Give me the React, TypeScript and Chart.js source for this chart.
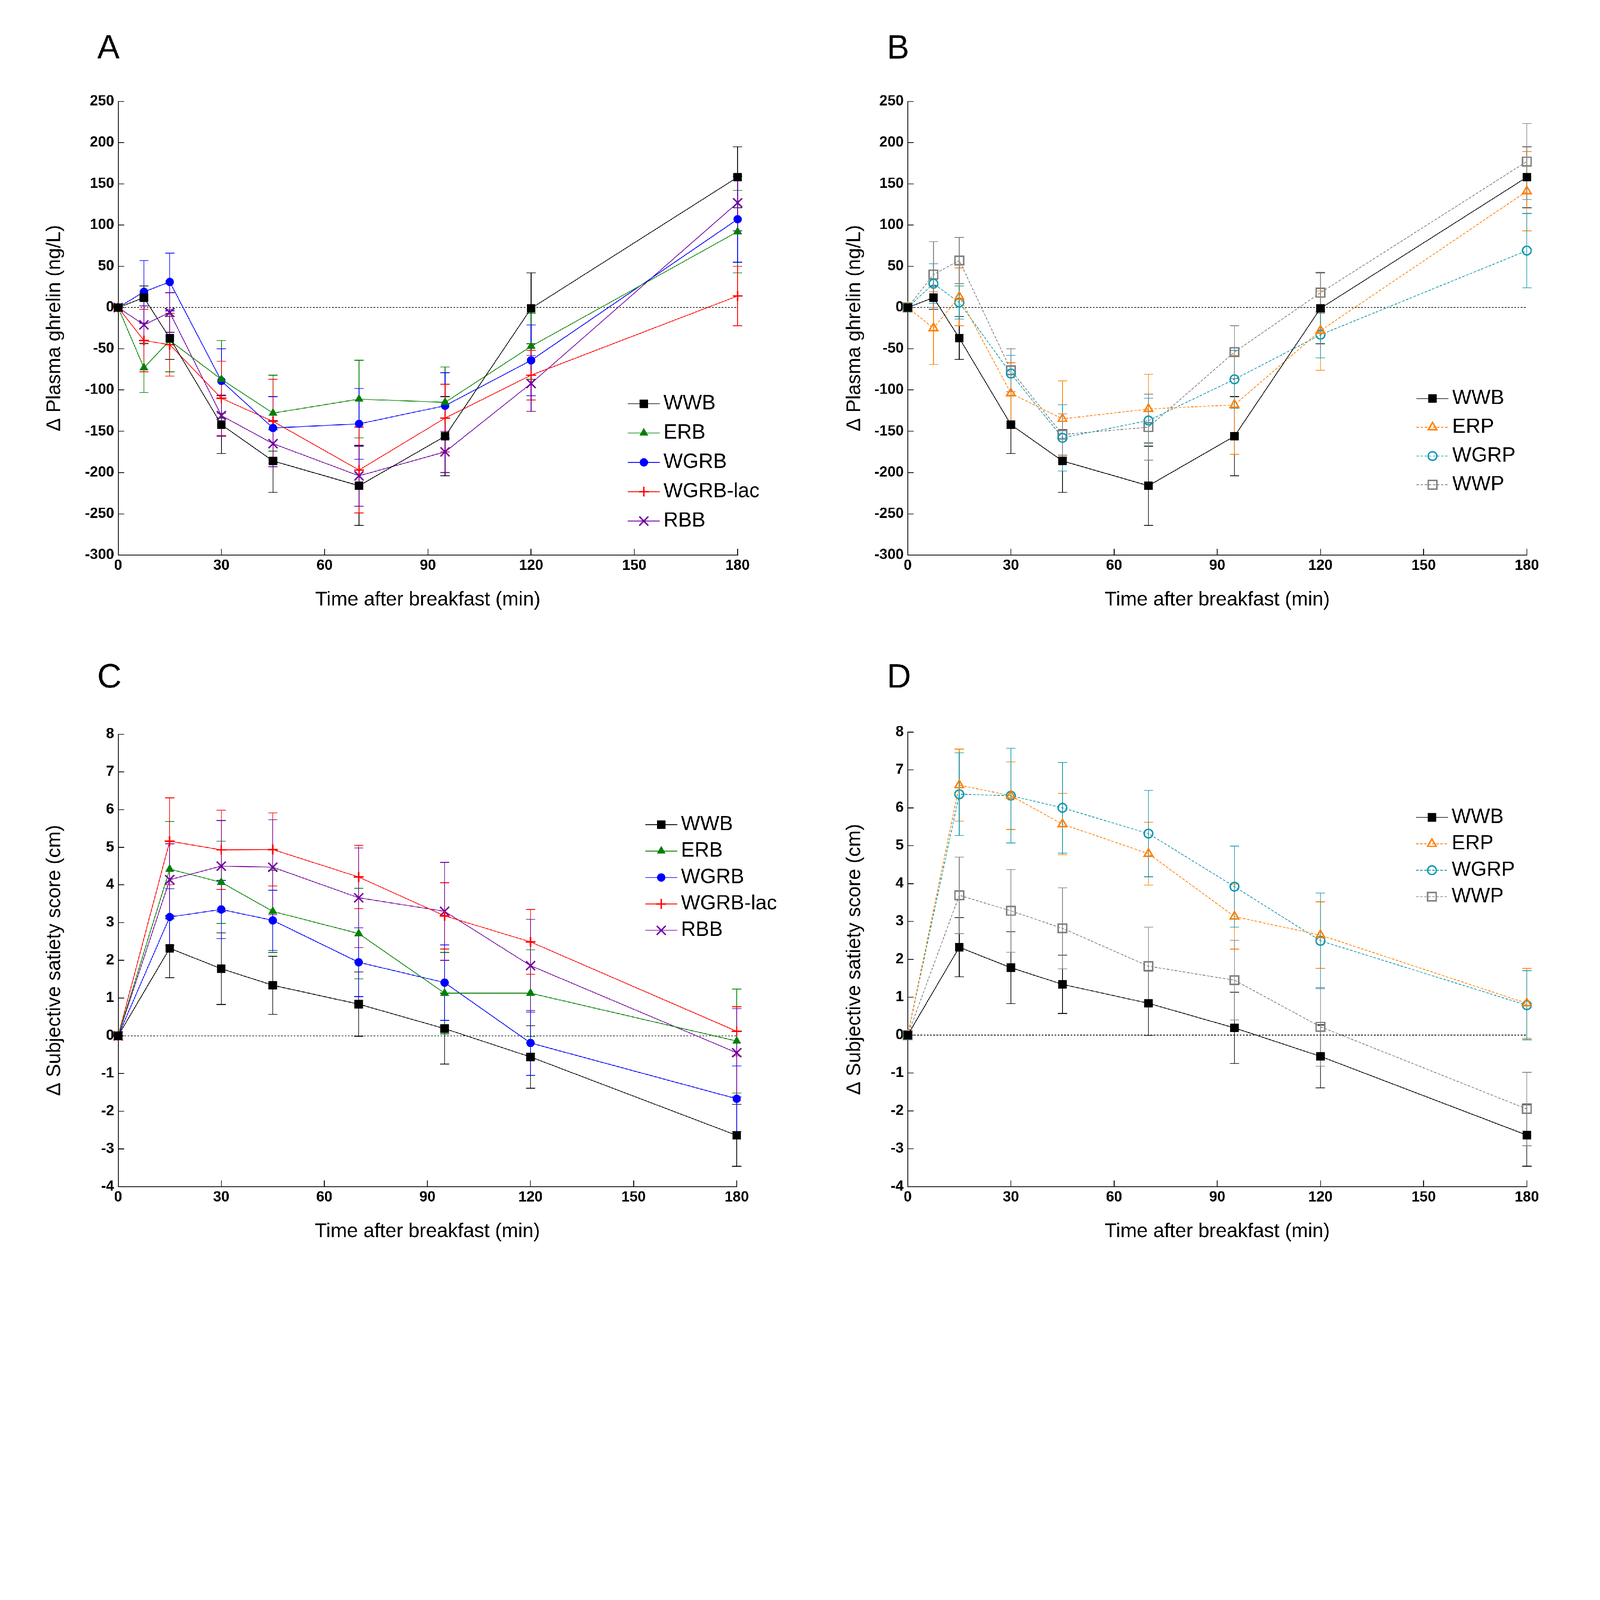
import { useEffect, useRef } from "react";
import { Chart, registerables } from "chart.js";
import { drawPoint } from "chart.js/helpers";

Chart.register(...registerables);

const FONT = "'Liberation Sans', Arial, Helvetica, sans-serif";
const PAGE_W = 5512;
const PAGE_H = 4419;

// sampling times (min after breakfast)
const ghrelinTimes = [0, 7.5, 15, 30, 45, 70, 95, 120, 180];
const satietyTimes = [0, 15, 30, 45, 70, 95, 120, 180];

// A / B: change in plasma ghrelin (ng/L), mean and SEM
const ghrWWB = [0, 12, -37, -142, -186, -216, -156, -1, 158];
const ghrWWBErr = [0, 14, 26, 35, 38, 48, 48, 43, 37];
const ghrERB = [0, -73, -40, -87, -128, -111, -115, -47, 92];
const ghrERBErr = [0, 30, 38, 47, 46, 47, 43, 40, 50];
const ghrWGRB = [0, 19, 31, -89, -146, -141, -119, -64, 107];
const ghrWGRBErr = [0, 38, 35, 39, 38, 43, 40, 43, 52];
const ghrWGRBlac = [0, -40, -45, -110, -138, -197, -134, -82, 14];
const ghrWGRBlacErr = [0, 38, 38, 45, 51, 52, 41, 30, 36];
const ghrRBB = [0, -21, -6, -131, -165, -204, -175, -92, 127];
const ghrRBBErr = [0, 23, 24, 25, 28, 37, 25, 34, 34];
const ghrERP = [0, -25, 13, -104, -135, -123, -118, -28, 141];
const ghrERPErr = [0, 44, 35, 37, 46, 42, 60, 48, 48];
const ghrWGRP = [0, 29, 6, -80, -158, -137, -87, -33, 69];
const ghrWGRPErr = [0, 24, 20, 22, 40, 27, 35, 28, 45];
const ghrWWP = [0, 40, 57, -76, -154, -145, -54, 18, 177];
const ghrWWPErr = [0, 40, 28, 26, 25, 40, 32, 25, 46];

// C / D: change in subjective satiety score (cm), mean and SEM
const satWWB = [0, 2.32, 1.78, 1.34, 0.84, 0.19, -0.56, -2.64];
const satWWBErr = [0, 0.78, 0.95, 0.77, 0.85, 0.94, 0.83, 0.82];
const satERB = [0, 4.42, 4.07, 3.3, 2.71, 1.13, 1.13, -0.14];
const satERBErr = [0, 1.26, 1.09, 1.09, 1.2, 1.08, 1.15, 1.38];
const satWGRB = [0, 3.15, 3.35, 3.06, 1.95, 1.41, -0.19, -1.67];
const satWGRBErr = [0, 0.75, 0.77, 0.8, 0.91, 1.0, 0.86, 0.87];
const satWGRBlac = [0, 5.16, 4.93, 4.94, 4.21, 3.18, 2.49, 0.12];
const satWGRBlacErr = [0, 1.15, 1.05, 0.97, 0.84, 0.88, 0.86, 0.65];
const satRBB = [0, 4.14, 4.5, 4.47, 3.66, 3.3, 1.86, -0.45];
const satRBBErr = [0, 0.95, 1.21, 1.26, 1.32, 1.3, 1.23, 1.17];
const satERP = [0, 6.6, 6.32, 5.57, 4.79, 3.13, 2.64, 0.84];
const satERPErr = [0, 0.95, 0.89, 0.81, 0.83, 0.86, 0.88, 0.92];
const satWGRP = [0, 6.36, 6.32, 6.0, 5.32, 3.92, 2.49, 0.79];
const satWGRPErr = [0, 1.09, 1.25, 1.2, 1.14, 1.07, 1.26, 0.91];
const satWWP = [0, 3.69, 3.28, 2.82, 1.82, 1.45, 0.22, -1.95];
const satWWPErr = [0, 1.01, 1.09, 1.07, 1.03, 1.05, 1.04, 0.97];

type Look = {
  color: string;
  pointStyle: string;
  radius: number;
  pointWidth: number;
  filled: boolean;
  dashed: boolean;
};

const looks: Record<string, Look> = {
  WWB: { color: "#000000", pointStyle: "rect", radius: 20, pointWidth: 1, filled: true, dashed: false },
  ERB: { color: "#008000", pointStyle: "triangle", radius: 17, pointWidth: 1, filled: true, dashed: false },
  WGRB: { color: "#0000ff", pointStyle: "circle", radius: 14, pointWidth: 1, filled: true, dashed: false },
  "WGRB-lac": { color: "#ff0000", pointStyle: "cross", radius: 17, pointWidth: 5, filled: true, dashed: false },
  RBB: { color: "#7000a0", pointStyle: "crossRot", radius: 22, pointWidth: 5, filled: true, dashed: false },
  ERP: { color: "#ff8000", pointStyle: "triangle", radius: 17, pointWidth: 5, filled: false, dashed: true },
  WGRP: { color: "#1598b0", pointStyle: "circle", radius: 15, pointWidth: 5, filled: false, dashed: true },
  WWP: { color: "#808080", pointStyle: "rect", radius: 21, pointWidth: 5, filled: false, dashed: true },
};

type Series = { label: string; values: number[]; errors: number[] };

type PanelSpec = {
  letter: string;
  left: number;
  top: number;
  width: number;
  height: number;
  area: { l: number; r: number; t: number; b: number };
  times: number[];
  series: Series[];
  yMin: number;
  yMax: number;
  yStep: number;
  yTitle: string;
  legend: { dx: number; dy: number; gap: number };
  letterDy: number;
};

const DASH = [9, 5];

const errorBarPlugin = {
  id: "errorBars",
  beforeDatasetsDraw(chart: any) {
    const { ctx, scales } = chart;
    const x = scales.x;
    const y = scales.y;
    ctx.save();
    // dotted zero line
    ctx.strokeStyle = "#000";
    ctx.lineWidth = 2.5;
    ctx.setLineDash([6, 5]);
    ctx.beginPath();
    ctx.moveTo(x.getPixelForValue(0), y.getPixelForValue(0));
    ctx.lineTo(x.getPixelForValue(180), y.getPixelForValue(0));
    ctx.stroke();
    ctx.setLineDash([]);
    chart.data.datasets.forEach((ds: any, i: number) => {
      const meta = chart.getDatasetMeta(i);
      const errs: number[] = ds.errors || [];
      ctx.strokeStyle = ds.borderColor;
      ctx.lineWidth = 2.5;
      meta.data.forEach((pt: any, j: number) => {
        const e = errs[j];
        if (!e) return;
        const v = ds.data[j].y;
        const px = pt.x;
        const y1 = y.getPixelForValue(v + e);
        const y2 = y.getPixelForValue(v - e);
        ctx.beginPath();
        ctx.moveTo(px, y1);
        ctx.lineTo(px, y2);
        ctx.moveTo(px - 16, y1);
        ctx.lineTo(px + 16, y1);
        ctx.moveTo(px - 16, y2);
        ctx.lineTo(px + 16, y2);
        ctx.stroke();
      });
    });
    ctx.restore();
  },
};

function makeDecor(spec: PanelSpec) {
  return {
    id: "decor",
    afterDraw(chart: any) {
      const { ctx, chartArea } = chart;
      ctx.save();
      // panel letter
      ctx.fillStyle = "#000";
      ctx.font = `116px ${FONT}`;
      ctx.textAlign = "left";
      ctx.textBaseline = "alphabetic";
      ctx.fillText(spec.letter, chartArea.left - 72, chartArea.top - spec.letterDy);
      // legend inside the plot
      const x0 = chartArea.right - spec.legend.dx;
      spec.series.forEach((s, i) => {
        const look = looks[s.label];
        const yy = chartArea.top + spec.legend.dy + i * spec.legend.gap;
        ctx.strokeStyle = look.color;
        ctx.lineWidth = 2.5;
        ctx.setLineDash(look.dashed ? DASH : []);
        ctx.beginPath();
        ctx.moveTo(x0, yy);
        ctx.lineTo(x0 + 110, yy);
        ctx.stroke();
        ctx.setLineDash([]);
        ctx.fillStyle = look.filled ? look.color : "rgba(0,0,0,0)";
        ctx.lineWidth = look.pointWidth;
        drawPoint(ctx, { pointStyle: look.pointStyle as any, radius: look.radius, borderWidth: look.pointWidth, rotation: 0 }, x0 + 55, yy);
        ctx.fillStyle = "#000";
        ctx.font = `70px ${FONT}`;
        ctx.textBaseline = "middle";
        ctx.fillText(s.label, x0 + 123, yy);
      });
      ctx.restore();
    },
  };
}

const tickFont = { family: FONT, size: 50, weight: "bold" as const };
const titleFont = { family: FONT, size: 68, weight: "normal" as const };

function Panel({ spec }: { spec: PanelSpec }) {
  const ref = useRef<HTMLCanvasElement | null>(null);

  useEffect(() => {
    if (!ref.current) return;
    const { area, width, height } = spec;
    const datasets = spec.series.map((s) => {
      const look = looks[s.label];
      return {
        label: s.label,
        data: spec.times.map((t, i) => ({ x: t, y: s.values[i] })),
        errors: s.errors,
        borderColor: look.color,
        backgroundColor: look.color,
        borderWidth: 2.5,
        borderDash: look.dashed ? DASH : [],
        pointStyle: look.pointStyle,
        pointRadius: look.radius,
        pointBorderWidth: look.pointWidth,
        pointBorderColor: look.color,
        pointBackgroundColor: look.filled ? look.color : "rgba(0,0,0,0)",
        tension: 0,
        fill: false,
        clip: false,
      };
    });

    const chart = new Chart(ref.current, {
      type: "line",
      data: { datasets: datasets as any },
      options: {
        responsive: false,
        animation: false,
        devicePixelRatio: 1,
        events: [],
        layout: {
          padding: { left: 140, top: area.t, right: width - area.r, bottom: height - area.b - 220 },
        },
        plugins: { legend: { display: false }, tooltip: { enabled: false } },
        scales: {
          x: {
            type: "linear",
            min: 0,
            max: 180,
            ticks: { stepSize: 30, color: "#000", padding: 28, font: tickFont, maxRotation: 0, autoSkip: false },
            grid: { drawOnChartArea: false, drawTicks: true, tickLength: -21, color: "#000", lineWidth: 2.5 },
            border: { display: true, color: "#000", width: 3 },
            title: {
              display: true,
              text: "Time after breakfast (min)",
              color: "#000",
              font: titleFont,
              padding: { top: 0, bottom: 24 },
            },
            afterFit: (s: any) => {
              s.height = 220;
            },
          },
          y: {
            type: "linear",
            min: spec.yMin,
            max: spec.yMax,
            ticks: { stepSize: spec.yStep, color: "#000", padding: 35, font: tickFont, autoSkip: false },
            grid: { drawOnChartArea: false, drawTicks: true, tickLength: -21, color: "#000", lineWidth: 2.5 },
            border: { display: true, color: "#000", width: 3 },
            title: {
              display: true,
              text: spec.yTitle,
              color: "#000",
              font: titleFont,
              padding: { top: 7, bottom: 0 },
            },
            afterFit: (s: any) => {
              s.width = area.l - 140;
            },
          },
        },
      },
      plugins: [errorBarPlugin, makeDecor(spec)],
    });

    return () => chart.destroy();
  }, [spec]);

  return (
    <canvas
      ref={ref}
      width={spec.width}
      height={spec.height}
      style={{ position: "absolute", left: spec.left, top: spec.top, width: spec.width, height: spec.height }}
    />
  );
}

const ghrelinFood: Series[] = [
  { label: "WWB", values: ghrWWB, errors: ghrWWBErr },
  { label: "ERB", values: ghrERB, errors: ghrERBErr },
  { label: "WGRB", values: ghrWGRB, errors: ghrWGRBErr },
  { label: "WGRB-lac", values: ghrWGRBlac, errors: ghrWGRBlacErr },
  { label: "RBB", values: ghrRBB, errors: ghrRBBErr },
];
const ghrelinPorridge: Series[] = [
  { label: "WWB", values: ghrWWB, errors: ghrWWBErr },
  { label: "ERP", values: ghrERP, errors: ghrERPErr },
  { label: "WGRP", values: ghrWGRP, errors: ghrWGRPErr },
  { label: "WWP", values: ghrWWP, errors: ghrWWPErr },
];
const satietyFood: Series[] = [
  { label: "WWB", values: satWWB, errors: satWWBErr },
  { label: "ERB", values: satERB, errors: satERBErr },
  { label: "WGRB", values: satWGRB, errors: satWGRBErr },
  { label: "WGRB-lac", values: satWGRBlac, errors: satWGRBlacErr },
  { label: "RBB", values: satRBB, errors: satRBBErr },
];
const satietyPorridge: Series[] = [
  { label: "WWB", values: satWWB, errors: satWWBErr },
  { label: "ERP", values: satERP, errors: satERPErr },
  { label: "WGRP", values: satWGRP, errors: satWGRPErr },
  { label: "WWP", values: satWWP, errors: satWWPErr },
];

const GHRELIN_TITLE = "\u0394 Plasma ghrelin (ng/L)";
const SATIETY_TITLE = "\u0394 Subjective satiety score (cm)";

const panels: PanelSpec[] = [
  {
    letter: "A", left: 0, top: 0, width: 2756, height: 2210,
    area: { l: 407, r: 2541, t: 349, b: 1912 },
    times: ghrelinTimes, series: ghrelinFood,
    yMin: -300, yMax: 250, yStep: 50, yTitle: GHRELIN_TITLE,
    legend: { dx: 378, dy: 1042, gap: 101 }, letterDy: 147,
  },
  {
    letter: "B", left: 2756, top: 0, width: 2756, height: 2210,
    area: { l: 371, r: 2504, t: 349, b: 1912 },
    times: ghrelinTimes, series: ghrelinPorridge,
    yMin: -300, yMax: 250, yStep: 50, yTitle: GHRELIN_TITLE,
    legend: { dx: 380, dy: 1024, gap: 99 }, letterDy: 147,
  },
  {
    letter: "C", left: 0, top: 2210, width: 2756, height: 2209,
    area: { l: 407, r: 2538, t: 319, b: 1878 },
    times: satietyTimes, series: satietyFood,
    yMin: -4, yMax: 8, yStep: 1, yTitle: SATIETY_TITLE,
    legend: { dx: 315, dy: 312, gap: 91 }, letterDy: 160,
  },
  {
    letter: "D", left: 2756, top: 2210, width: 2756, height: 2209,
    area: { l: 371, r: 2504, t: 312, b: 1878 },
    times: satietyTimes, series: satietyPorridge,
    yMin: -4, yMax: 8, yStep: 1, yTitle: SATIETY_TITLE,
    legend: { dx: 382, dy: 294, gap: 91 }, letterDy: 153,
  },
];

if (typeof document !== "undefined") {
  document.body.style.margin = "0";
  document.body.style.overflow = "hidden";
}

export default function App() {
  // fit the whole figure inside the viewport, whatever its css size is
  const vw = typeof window !== "undefined" ? window.innerWidth : PAGE_W;
  const vh = typeof window !== "undefined" ? window.innerHeight : PAGE_H;
  const scale = Math.min(1, vw / PAGE_W, vh / PAGE_H);
  return (
    <div
      style={{
        position: "absolute",
        left: 0,
        top: 0,
        width: PAGE_W,
        height: PAGE_H,
        background: "#fff",
        transform: `scale(${scale})`,
        transformOrigin: "0 0",
      }}
    >
      {panels.map((p) => (
        <Panel key={p.letter} spec={p} />
      ))}
    </div>
  );
}
